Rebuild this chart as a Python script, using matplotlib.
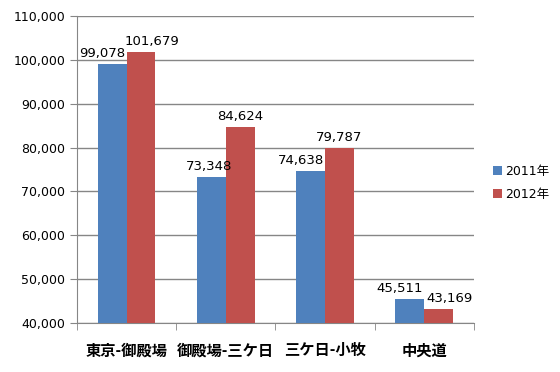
import matplotlib.pyplot as plt
import numpy as np

plt.rcParams['font.family'] = ['DejaVu Sans', 'Noto Sans CJK JP']

categories = ['東京-御殿場', '御殿場-三ケ日', '三ケ日-小牧', '中央道']
y2011 = [99078, 73348, 74638, 45511]
y2012 = [101679, 84624, 79787, 43169]
series = ['2011年', '2012年']
colors = ['#4F81BD', '#C0504D']

# horizontal nudge of the data labels (points), as in the original
shift2011 = [-7, -2, -7, -7]
shift2012 = [8, 0, 0, 8]

fig = plt.figure(figsize=(5.6, 3.72), dpi=100)
ax = fig.add_axes([0.1375, 0.132, 0.7085, 0.825])

x = np.arange(len(categories))
w = 0.29
b1 = ax.bar(x - w / 2, y2011, w, color=colors[0], label=series[0], zorder=3)
b2 = ax.bar(x + w / 2, y2012, w, color=colors[1], label=series[1], zorder=3)

for bars, vals, sh in ((b1, y2011, shift2011), (b2, y2012, shift2012)):
    for r, v, s in zip(bars, vals, sh):
        ax.annotate(f'{v:,}', (r.get_x() + r.get_width() / 2, v),
                    xytext=(s, 3), textcoords='offset points',
                    ha='center', va='bottom', fontsize=9.5, zorder=4)

ax.set_ylim(40000, 110000)
ax.set_yticks(np.arange(40000, 110001, 10000))
ax.set_yticklabels([f'{v:,}' for v in range(40000, 110001, 10000)], fontsize=9)
ax.yaxis.grid(True, color='#868686', linewidth=1, zorder=0)
ax.set_xlim(-0.5, len(categories) - 0.5)

ax.set_xticks(x)
ax.set_xticklabels(categories, fontsize=11, fontweight='bold',
                   family=['Noto Sans CJK JP', 'DejaVu Sans'])
ax.tick_params(axis='x', length=0, pad=14)
ax.set_xticks(np.arange(-0.5, len(categories)), minor=True)
ax.tick_params(axis='x', which='minor', length=5, color='#868686', direction='out')
ax.tick_params(axis='y', length=5, color='#868686', direction='out')

for s in ('top', 'right'):
    ax.spines[s].set_visible(False)
for s in ('left', 'bottom'):
    ax.spines[s].set_color('#868686')

leg = ax.legend(loc='center left', bbox_to_anchor=(1.02, 0.456), frameon=False,
                handlelength=0.7, handleheight=0.7, handletextpad=0.3,
                labelspacing=0.8, prop={'family': ['DejaVu Sans', 'Noto Sans CJK JP'], 'size': 9})

fig.savefig('out.png', dpi=100)
